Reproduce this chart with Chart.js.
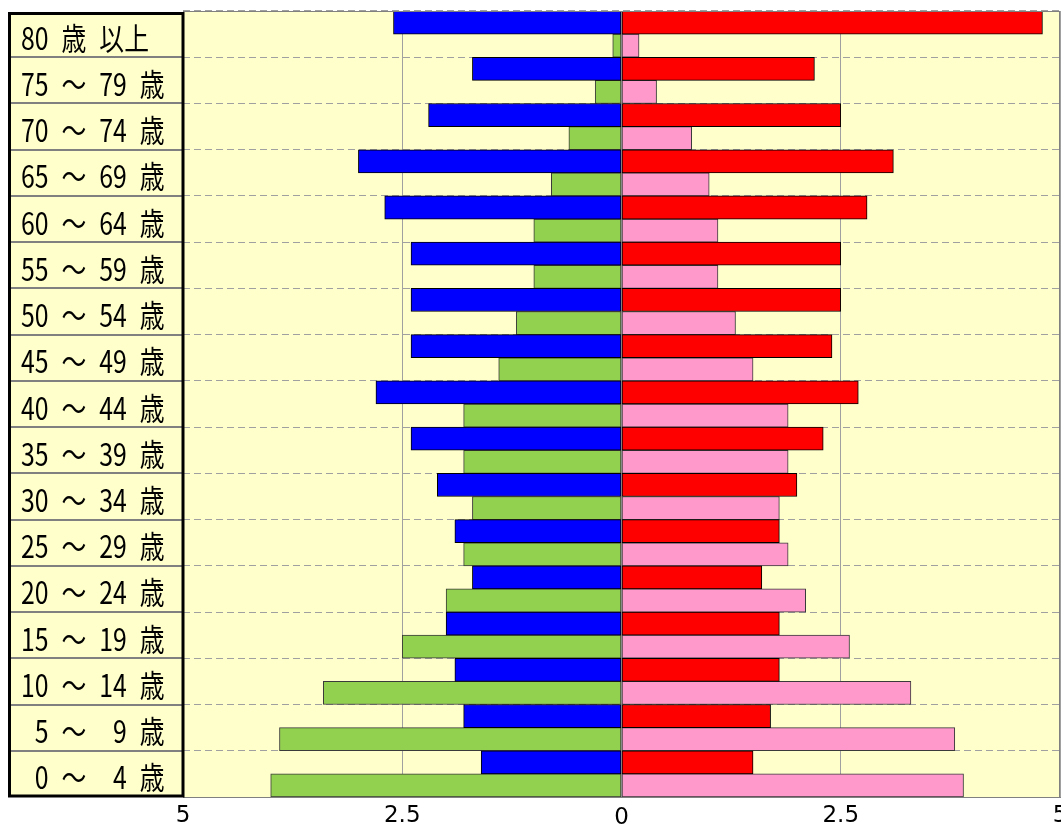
<!DOCTYPE html>
<html lang="ja">
<head>
<meta charset="utf-8">
<title>年齢別人口ピラミッド</title>
<script src="https://cdn.jsdelivr.net/npm/chart.js@4/dist/chart.umd.min.js"></script>
<style>
  html, body { margin: 0; padding: 0; background: #ffffff; }
  #wrap { width: 1061px; height: 824px; }
</style>
</head>
<body>
<div id="wrap"><canvas id="c" width="1061" height="824"></canvas></div>
<script>
// ---- data (top row first) ----
const ageLabels = [
  '80 歳 以上', '75 ～ 79 歳', '70 ～ 74 歳', '65 ～ 69 歳', '60 ～ 64 歳',
  '55 ～ 59 歳', '50 ～ 54 歳', '45 ～ 49 歳', '40 ～ 44 歳', '35 ～ 39 歳',
  '30 ～ 34 歳', '25 ～ 29 歳', '20 ～ 24 歳', '15 ～ 19 歳', '10 ～ 14 歳',
  '5 ～ 9 歳', '0 ～ 4 歳'
];
const maleUpper   = [2.6, 1.7, 2.2, 3.0, 2.7, 2.4, 2.4, 2.4, 2.8, 2.4, 2.1, 1.9, 1.7, 2.0, 1.9, 1.8, 1.6];
const femaleUpper = [4.8, 2.2, 2.5, 3.1, 2.8, 2.5, 2.5, 2.4, 2.7, 2.3, 2.0, 1.8, 1.6, 1.8, 1.8, 1.7, 1.5];
const maleLower   = [0.1, 0.3, 0.6, 0.8, 1.0, 1.0, 1.2, 1.4, 1.8, 1.8, 1.7, 1.8, 2.0, 2.5, 3.4, 3.9, 4.0];
const femaleLower = [0.2, 0.4, 0.8, 1.0, 1.1, 1.1, 1.3, 1.5, 1.9, 1.9, 1.8, 1.9, 2.1, 2.6, 3.3, 3.8, 3.9];
const xTicks = [-5, -2.5, 0, 2.5, 5];

const BG = '#ffffcc';

const bgPlugin = {
  id: 'bg',
  beforeDraw(chart) {
    const { ctx, chartArea: a } = chart;
    ctx.save();
    ctx.fillStyle = BG;
    ctx.fillRect(a.left, a.top, a.right - a.left, a.bottom - a.top);
    ctx.restore();
  },
  afterDraw(chart) {
    const { ctx, chartArea: a } = chart;
    const y = chart.scales.y;
    ctx.save();
    // plot frame
    ctx.strokeStyle = '#808080';
    ctx.lineWidth = 1;
    ctx.strokeRect(a.left + 0.5, a.top + 0.5, a.right - a.left - 1, a.bottom - a.top);
    // label panel
    const pl = 9.5, pt = 13.5, pr = a.left, pb = a.bottom - 1;
    ctx.fillStyle = BG;
    ctx.fillRect(pl, pt, pr - pl, pb - pt);
    // separators
    for (let i = 1; i < ageLabels.length; i++) {
      const yy = Math.round((y.getPixelForValue(i - 1) + y.getPixelForValue(i)) / 2);
      ctx.setLineDash([]);
      ctx.strokeStyle = '#ffffff';
      ctx.lineWidth = 2;
      ctx.beginPath(); ctx.moveTo(pl, yy); ctx.lineTo(pr, yy); ctx.stroke();
      ctx.strokeStyle = '#000000';
      ctx.lineWidth = 1;
      ctx.setLineDash([1, 1]);
      ctx.lineDashOffset = 0;
      ctx.beginPath(); ctx.moveTo(pl, yy - 0.5); ctx.lineTo(pr, yy - 0.5); ctx.stroke();
      ctx.lineDashOffset = 1;
      ctx.beginPath(); ctx.moveTo(pl, yy + 0.5); ctx.lineTo(pr, yy + 0.5); ctx.stroke();
    }
    ctx.setLineDash([]);
    ctx.lineDashOffset = 0;
    ctx.strokeStyle = '#000000';
    ctx.lineWidth = 3;
    ctx.strokeRect(pl, pt, pr - pl, pb - pt);
    // labels
    ctx.fillStyle = '#000000';
    ctx.font = '31px "Noto Sans CJK JP"';
    ctx.textBaseline = 'alphabetic';
    const numW = ctx.measureText('00').width;
    const gap = 13 / 0.8;
    ageLabels.forEach((lab, i) => {
      const yc = y.getPixelForValue(i);
      ctx.save();
      ctx.translate(21, yc + 15.5);
      ctx.scale(0.8, 1);
      let x = 0;
      lab.split(' ').forEach(tok => {
        if (/^\d+$/.test(tok)) {
          ctx.textAlign = 'right';
          ctx.fillText(tok, x + numW, 0);
          x += numW + gap;
        } else {
          ctx.textAlign = 'left';
          ctx.fillText(tok, x, 0);
          x += ctx.measureText(tok).width + gap;
        }
      });
      ctx.restore();
    });
    ctx.restore();
  }
};

const neg = arr => arr.map(v => -v);

new Chart(document.getElementById('c'), {
  type: 'bar',
  data: {
    labels: ageLabels,
    datasets: [
      { label: '男（上段）', data: neg(maleUpper), stack: 'upper', backgroundColor: '#0000ff', borderColor: '#000000' },
      { label: '女（上段）', data: femaleUpper, stack: 'upper', backgroundColor: '#ff0000', borderColor: '#000000' },
      { label: '男（下段）', data: neg(maleLower), stack: 'lower', backgroundColor: '#92d050', borderColor: '#3a3a3a' },
      { label: '女（下段）', data: femaleLower, stack: 'lower', backgroundColor: '#ff99cc', borderColor: '#3a3a3a' }
    ].map(d => Object.assign(d, { borderWidth: 1, borderSkipped: false, barPercentage: 1, categoryPercentage: 1 }))
  },
  plugins: [bgPlugin],
  options: {
    indexAxis: 'y',
    responsive: false,
    animation: false,
    devicePixelRatio: 1,
    layout: { padding: { top: 11, right: 1, left: 0, bottom: 0 } },
    plugins: { legend: { display: false }, tooltip: { enabled: false } },
    scales: {
      x: {
        stacked: true,
        min: -5, max: 5,
        afterBuildTicks: s => { s.ticks = xTicks.map(v => ({ value: v })); },
        afterFit: s => { s.height = 27; s.paddingLeft = 0; s.paddingRight = 0; },
        grid: { color: '#a0a0a0', lineWidth: 1, drawTicks: false },
        border: { display: true, color: '#808080' },
        ticks: {
          maxRotation: 0,
          autoSkip: false,
          padding: 7,
          color: '#000000',
          font: c => ({ family: '"DejaVu Sans"', size: 23, lineHeight: (c.tick && c.tick.value === 0) ? '29px' : '25px' }),
          callback: v => String(Math.abs(v))
        }
      },
      y: {
        afterFit: s => { s.width = 183; s.paddingTop = 0; s.paddingBottom = 0; },
        grid: { color: '#a0a0a0', lineWidth: 1, offset: true, drawTicks: false },
        border: { display: false, dash: [7, 4] },
        ticks: { display: false }
      }
    }
  }
});
</script>
</body>
</html>
